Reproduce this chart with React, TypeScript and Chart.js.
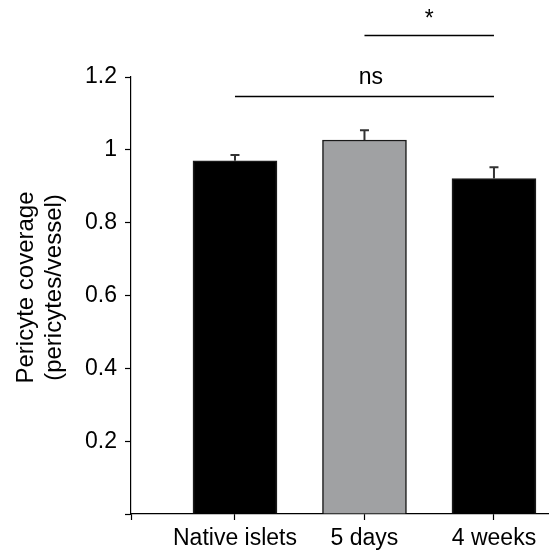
import React, { useEffect, useRef } from 'react';
import { Chart, registerables } from 'chart.js';

Chart.register(...registerables);

// ---- data ----
const categories = ['Native islets', '5 days', '4 weeks'];
const categoryPositions = [1, 2, 3];
const meanValues = [0.97, 1.027, 0.921];
const errorValues = [0.016, 0.027, 0.031];
const barColors = ['#000000', '#a0a1a3', '#000000'];
const yTickValues = [0, 0.2, 0.4, 0.6, 0.8, 1, 1.2];
const yTitleLines = ['Pericyte coverage', '(pericytes/vessel)'];
const sigLabels = ['ns', '*'];
const sigFrom = [1, 2];
const sigTo = [3, 3];
const sigLineLevels = [1.147, 1.315];
const sigTextLevels = [1.18, 1.339];
const sigTextPositions = [2.05, 2.5];

const X_MIN = 0.197;
const X_MAX = 3.425;
const FONT_FAMILY = '"Liberation Sans", Arial, Helvetica, sans-serif';

const errorBarPlugin = {
  id: 'errorBars',
  afterDatasetsDraw(chart: any) {
    const ctx = chart.ctx;
    const meta = chart.getDatasetMeta(0);
    const yScale = chart.scales.y;
    ctx.save();
    ctx.strokeStyle = '#333333';
    ctx.lineWidth = 2;
    meta.data.forEach((el: any, i: number) => {
      const top = yScale.getPixelForValue(meanValues[i] + errorValues[i]);
      ctx.beginPath();
      ctx.moveTo(el.x, el.y);
      ctx.lineTo(el.x, top);
      ctx.moveTo(el.x - 4.5, top);
      ctx.lineTo(el.x + 4.5, top);
      ctx.stroke();
    });
    ctx.restore();
  },
};

const significancePlugin = {
  id: 'significance',
  afterDraw(chart: any) {
    const { ctx } = chart;
    const xs = chart.scales.x;
    const ys = chart.scales.y;
    ctx.save();
    ctx.strokeStyle = '#000';
    ctx.fillStyle = '#000';
    ctx.lineWidth = 1.3;
    ctx.font = `23px ${FONT_FAMILY}`;
    ctx.textAlign = 'center';
    ctx.textBaseline = 'alphabetic';
    sigLabels.forEach((lab, i) => {
      const x0 = xs.getPixelForValue(sigFrom[i]);
      const x1 = xs.getPixelForValue(sigTo[i]);
      const ly = Math.round(ys.getPixelForValue(sigLineLevels[i])) + 0.5;
      ctx.beginPath();
      ctx.moveTo(x0, ly);
      ctx.lineTo(x1, ly);
      ctx.stroke();
      ctx.fillText(lab, xs.getPixelForValue(sigTextPositions[i]), ys.getPixelForValue(sigTextLevels[i]));
    });
    ctx.restore();
  },
};

// y-axis title, two rotated lines to the left of the axis
const yTitlePlugin = {
  id: 'yTitle',
  afterDraw(chart: any) {
    const { ctx, chartArea } = chart;
    const cy = (chartArea.top + chartArea.bottom) / 2 - 8;
    ctx.save();
    ctx.fillStyle = '#000';
    ctx.font = `24px ${FONT_FAMILY}`;
    ctx.textAlign = 'center';
    ctx.textBaseline = 'middle';
    const lineXs = [26.5, 54];
    yTitleLines.forEach((line, i) => {
      ctx.save();
      ctx.translate(lineXs[i], cy);
      ctx.rotate(-Math.PI / 2);
      ctx.fillText(line, 0, 0);
      ctx.restore();
    });
    ctx.restore();
  },
};

export default function App() {
  const canvasRef = useRef<HTMLCanvasElement | null>(null);

  useEffect(() => {
    if (!canvasRef.current) return;
    const font = { family: FONT_FAMILY, size: 23 };
    const chart = new Chart(canvasRef.current, {
      type: 'bar',
      data: {
        datasets: [
          {
            data: categoryPositions.map((x, i) => ({ x, y: meanValues[i] })),
            backgroundColor: barColors,
            borderColor: '#1a1a1a',
            borderWidth: 1.5,
            barThickness: 84,
          },
        ],
      },
      options: {
        responsive: false,
        animation: false,
        devicePixelRatio: 1,
        layout: { padding: { top: 77, left: 0, right: 0, bottom: 0 } },
        plugins: {
          legend: { display: false },
          tooltip: { enabled: false },
        },
        scales: {
          x: {
            type: 'linear',
            min: X_MIN,
            max: X_MAX,
            offset: false,
            afterBuildTicks: (s: any) => {
              s.ticks = [{ value: X_MIN }, ...categoryPositions.map((v) => ({ value: v }))];
            },
            ticks: {
              autoSkip: false,
              maxRotation: 0,
              minRotation: 0,
              font,
              color: '#000',
              padding: 5,
              callback: (v: any) => {
                const i = categoryPositions.indexOf(v);
                return i >= 0 ? categories[i] : '';
              },
            },
            grid: {
              display: true,
              drawOnChartArea: false,
              offset: false,
              drawTicks: true,
              tickLength: 6,
              tickColor: '#000',
              tickWidth: 1.2,
            },
            border: { display: true, color: '#000', width: 1.2 },
            afterFit: (s: any) => {
              s.height = 40;
            },
          },
          y: {
            type: 'linear',
            min: 0,
            max: 1.2,
            afterBuildTicks: (s: any) => {
              s.ticks = yTickValues.map((v) => ({ value: v }));
            },
            ticks: {
              font,
              color: '#000',
              padding: 8,
              callback: (v: any) => (v === 0 ? '' : String(+Number(v).toFixed(1))),
            },
            grid: {
              display: true,
              drawOnChartArea: false,
              drawTicks: true,
              tickLength: 6,
              tickColor: '#000',
              tickWidth: 1.2,
            },
            border: { display: true, color: '#000', width: 1.2 },
            title: { display: false },
            afterFit: (s: any) => {
              s.width = 131;
            },
          },
        },
      } as any,
      plugins: [errorBarPlugin, significancePlugin, yTitlePlugin],
    });
    return () => chart.destroy();
  }, []);

  return (
    <div style={{ position: 'absolute', left: 0, top: 0, width: 549, height: 554 }}>
      <canvas ref={canvasRef} width={549} height={554} style={{ display: 'block' }} />
    </div>
  );
}
